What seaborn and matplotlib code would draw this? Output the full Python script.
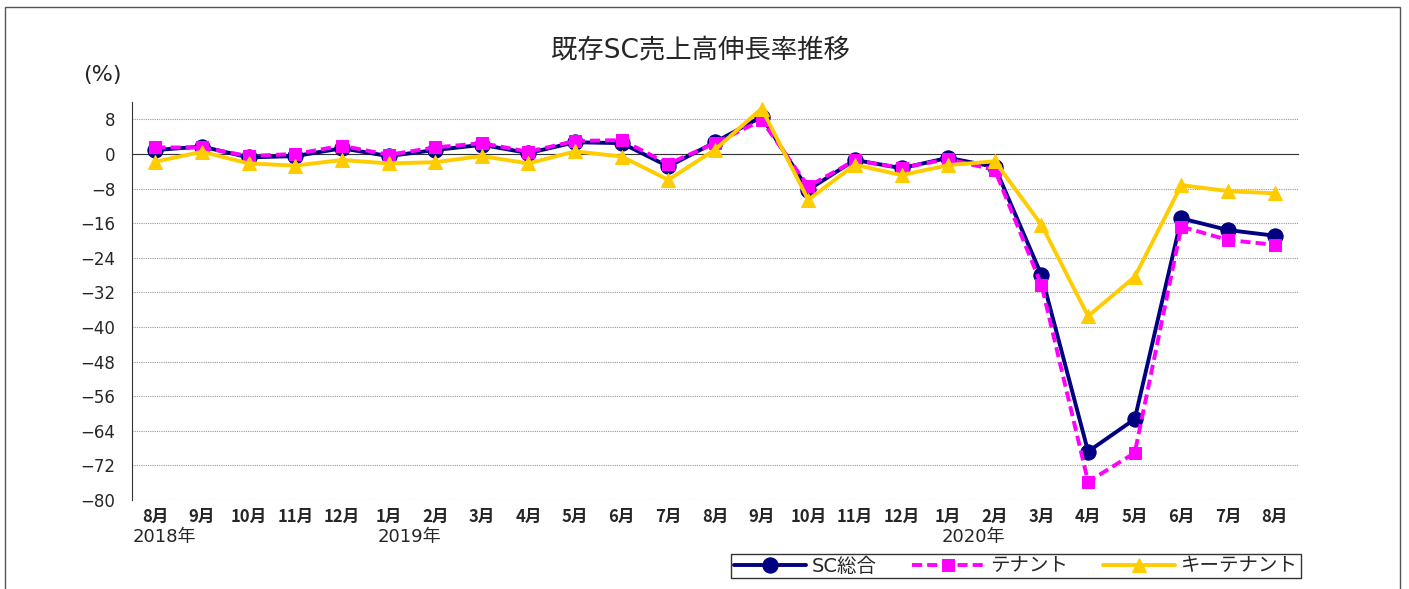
# sc_sales_growth.py

import numpy as np
import pandas as pd
import matplotlib
matplotlib.use("Agg")
import matplotlib.pyplot as plt
import matplotlib.patches as patches
import matplotlib.transforms as mtransforms
import seaborn as sns

# month labels, 2018/8 - 2020/8
months = ["8月", "9月", "10月", "11月", "12月", "1月", "2月", "3月", "4月", "5月",
          "6月", "7月", "8月", "9月", "10月", "11月", "12月", "1月", "2月", "3月",
          "4月", "5月", "6月", "7月", "8月"]
year_labels = ["2018年", "2019年", "2020年"]
year_pos = [0.2, 5.45, 17.55]

sc_total = [0.9, 1.7, -0.8, -0.5, 1.3, -0.5, 0.9, 2.1, 0.2, 2.7,
            2.5, -2.9, 2.7, 8.6, -8.3, -1.4, -3.3, -0.9, -3.0, -28.0,
            -68.8, -61.3, -14.9, -17.6, -18.9]
tenant = [1.5, 1.5, -0.5, 0.0, 1.9, -0.2, 1.5, 2.5, 0.5, 3.0,
          3.2, -2.3, 2.5, 7.8, -7.5, -1.5, -3.2, -1.2, -3.7, -30.3,
          -75.8, -69.1, -16.8, -19.9, -21.0]
key_tenant = [-1.8, 0.5, -2.2, -2.7, -1.4, -2.2, -1.9, -0.5, -2.2, 0.6,
              -0.6, -6.0, 1.0, 10.5, -10.6, -2.5, -4.9, -2.6, -1.7, -16.4,
              -37.5, -28.4, -7.2, -8.6, -9.1]

sns.set_style("white")
# DejaVu for latin/digits (wider), Noto CJK for the Japanese glyphs
plt.rcParams["font.family"] = ["DejaVu Sans", "Noto Sans CJK JP"]
cjk_first = ["Noto Sans CJK JP", "DejaVu Sans"]

x = np.arange(len(months))
df = pd.DataFrame({"x": x, "SC総合": sc_total, "テナント": tenant, "キーテナント": key_tenant})

fig = plt.figure(figsize=(14.09, 5.89), dpi=100)
ax = fig.add_axes([0.0937, 0.1511, 0.8275, 0.6757])

# draw series (key tenant on top)
sns.lineplot(data=df, x="x", y="SC総合", ax=ax, color="#000080", lw=2.8,
             marker="o", markersize=11, markeredgecolor="#000080", label="SC総合", zorder=3)
sns.lineplot(data=df, x="x", y="テナント", ax=ax, color="#FF00FF", lw=2.8,
             marker="s", markersize=8, markeredgecolor="#FF00FF", label="テナント", zorder=4)
ax.lines[-1].set_dashes([2.6, 1.3])
sns.lineplot(data=df, x="x", y="キーテナント", ax=ax, color="#FFCC00", lw=2.8,
             marker="^", markersize=10, markeredgecolor="#FFCC00", label="キーテナント", zorder=5)

ax.set_xlim(-0.5, len(months) - 0.5)
ax.set_ylim(-80, 12)
ax.set_yticks(np.arange(-80, 9, 8))
ax.yaxis.grid(True, color="#999999", linestyle=(0, (1, 1)), lw=0.8)
ax.tick_params(axis="y", length=0, pad=12, labelsize=12)
ax.set_xlabel("")
ax.set_ylabel("")

# category axis crossing at zero, tick marks point up
for s in ["top", "right"]:
    ax.spines[s].set_visible(False)
ax.spines["left"].set_color("#333333")
ax.spines["bottom"].set_position(("data", 0))
ax.spines["bottom"].set_color("#333333")
ax.set_xticks(np.arange(-0.5, len(months)))
ax.set_xticklabels([])
ax.tick_params(axis="x", direction="in", length=4, color="#333333")

# month labels at bottom
sec = ax.secondary_xaxis("bottom")
sec.set_xticks(x)
sec.set_xticklabels(months, fontsize=12, family=cjk_first, fontweight="bold")
sec.tick_params(length=0, pad=6)
sec.spines["bottom"].set_visible(False)

trans = mtransforms.blended_transform_factory(ax.transData, ax.transAxes)
for lbl, xp in zip(year_labels, year_pos):
    ax.text(xp, -0.093, lbl, transform=trans, ha="center", va="center", fontsize=13)

fig.text(0.497, 0.915, "既存SC売上高伸長率推移", ha="center", va="center", fontsize=19)
fig.text(0.073, 0.873, "(%)", ha="center", va="center", fontsize=16)

leg = ax.legend(loc="center", bbox_to_anchor=(1016 / 1409, 1 - 566 / 589),
                bbox_transform=fig.transFigure, ncol=3, frameon=True, fancybox=False,
                fontsize=14, handlelength=3.7, handletextpad=0.3, columnspacing=1.8,
                borderpad=0.15)
leg.get_frame().set_edgecolor("black")
leg.get_frame().set_linewidth(1)

# outer chart frame
fig.patches.append(patches.Rectangle((5 / 1409, -0.05), 1395 / 1409, 1 - 7 / 589 + 0.05,
                                     transform=fig.transFigure, fill=False,
                                     edgecolor="#555555", lw=1))

fig.savefig("out.png", dpi=100)
